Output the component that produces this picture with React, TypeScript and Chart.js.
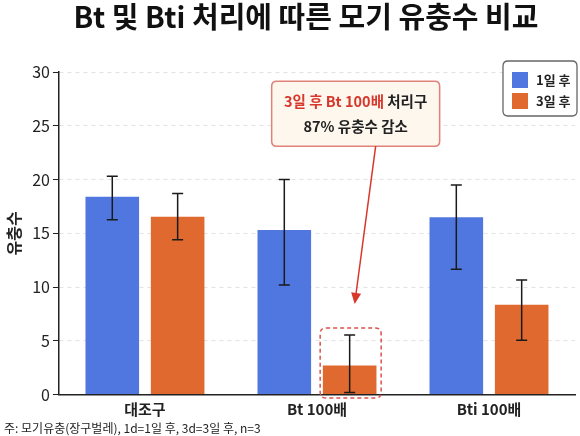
import React, { useEffect, useRef } from "react";
import { Chart, registerables } from "chart.js";

Chart.register(...registerables);

const categories = ["대조구", "Bt 100배", "Bti 100배"];
const seriesLabels = ["1일 후", "3일 후"];
const day1Values = [18.4, 15.3, 16.5];
const day1Upper = [20.3, 20.0, 19.5];
const day1Lower = [16.25, 10.2, 11.65];
const day3Values = [16.55, 2.7, 8.35];
const day3Upper = [18.7, 5.55, 10.65];
const day3Lower = [14.4, 0.2, 5.05];
const yTicks = [0, 5, 10, 15, 20, 25, 30];
const titleText = "Bt 및 Bti 처리에 따른 모기 유충수 비교";
const yAxisTitle = "유충수";
const footnote = "주: 모기유충(장구벌레), 1d=1일 후, 3d=3일 후, n=3";
const noteRed = "3일 후 Bt 100배";
const noteDark = " 처리구";
const noteLine2 = "87% 유충수 감소";

const BLUE = "#5077df";
const ORANGE = "#e0692f";
const RED = "#d8372c";
const FONT = "'Noto Sans CJK KR', 'Noto Sans', sans-serif";

const errorBarPlugin = {
  id: "errorBars",
  afterDatasetsDraw(chart: any) {
    const ctx = chart.ctx;
    const y = chart.scales.y;
    const uppers = [day1Upper, day3Upper];
    const lowers = [day1Lower, day3Lower];
    chart.data.datasets.forEach((_ds: any, di: number) => {
      const meta = chart.getDatasetMeta(di);
      meta.data.forEach((bar: any, i: number) => {
        const top = y.getPixelForValue(uppers[di][i]);
        const bot = y.getPixelForValue(lowers[di][i]);
        ctx.save();
        ctx.strokeStyle = "#1a1a1a";
        ctx.lineWidth = 1.5;
        ctx.beginPath();
        ctx.moveTo(bar.x, top);
        ctx.lineTo(bar.x, bot);
        ctx.moveTo(bar.x - 5.5, top);
        ctx.lineTo(bar.x + 5.5, top);
        ctx.moveTo(bar.x - 5.5, bot);
        ctx.lineTo(bar.x + 5.5, bot);
        ctx.stroke();
        ctx.restore();
      });
    });
  },
};

function roundRect(ctx: any, x: number, y: number, w: number, h: number, r: number) {
  ctx.beginPath();
  ctx.moveTo(x + r, y);
  ctx.lineTo(x + w - r, y);
  ctx.quadraticCurveTo(x + w, y, x + w, y + r);
  ctx.lineTo(x + w, y + h - r);
  ctx.quadraticCurveTo(x + w, y + h, x + w - r, y + h);
  ctx.lineTo(x + r, y + h);
  ctx.quadraticCurveTo(x, y + h, x, y + h - r);
  ctx.lineTo(x, y + r);
  ctx.quadraticCurveTo(x, y, x + r, y);
  ctx.closePath();
}

const annotationPlugin = {
  id: "annotations",
  afterDraw(chart: any) {
    const ctx = chart.ctx;
    const y = chart.scales.y;
    const area = chart.chartArea;
    const bar = chart.getDatasetMeta(1).data[1];
    const topVal = day3Upper[1];

    // title
    ctx.save();
    ctx.font = `bold 29px ${FONT}`;
    ctx.fillStyle = "#111";
    ctx.textAlign = "center";
    ctx.textBaseline = "middle";
    ctx.fillText(titleText, (area.left + area.right) / 2 - 11, 17);
    ctx.restore();

    // dashed highlight box
    ctx.save();
    ctx.strokeStyle = "#d9534f";
    ctx.lineWidth = 1.5;
    ctx.setLineDash([4, 3]);
    const hbTop = y.getPixelForValue(topVal) - 7;
    roundRect(ctx, bar.x - 29.5, hbTop, 61, y.getPixelForValue(0) + 3.5 - hbTop, 6);
    ctx.stroke();
    ctx.restore();

    // callout box
    const bw = 168;
    const bh = 65;
    const bx = bar.x + 6 - bw / 2;
    const by = y.getPixelForValue(29.15);
    ctx.save();
    ctx.fillStyle = "#fdf7ee";
    ctx.strokeStyle = "#e0817a";
    ctx.lineWidth = 1.5;
    roundRect(ctx, bx, by, bw, bh, 5);
    ctx.fill();
    ctx.stroke();
    ctx.font = `bold 14.5px ${FONT}`;
    ctx.textBaseline = "middle";
    const w1 = ctx.measureText(noteRed).width;
    const w2 = ctx.measureText(noteDark).width;
    const cx = bx + bw / 2;
    const sx = cx - (w1 + w2) / 2;
    ctx.textAlign = "left";
    ctx.fillStyle = RED;
    ctx.fillText(noteRed, sx, by + 20);
    ctx.fillStyle = "#222";
    ctx.fillText(noteDark, sx + w1, by + 20);
    ctx.textAlign = "center";
    ctx.fillText(noteLine2, cx, by + 45);

    // arrow
    const x0 = bar.x + 26;
    const y0 = by + bh;
    const x1 = bar.x + 5;
    const y1 = y.getPixelForValue(topVal) - 31;
    const ang = Math.atan2(y1 - y0, x1 - x0);
    ctx.strokeStyle = RED;
    ctx.fillStyle = RED;
    ctx.lineWidth = 1.5;
    ctx.beginPath();
    ctx.moveTo(x0, y0);
    ctx.lineTo(x1 - 9 * Math.cos(ang), y1 - 9 * Math.sin(ang));
    ctx.stroke();
    ctx.beginPath();
    ctx.moveTo(x1, y1);
    ctx.lineTo(x1 - 11 * Math.cos(ang) + 5 * Math.sin(ang), y1 - 11 * Math.sin(ang) - 5 * Math.cos(ang));
    ctx.lineTo(x1 - 11 * Math.cos(ang) - 5 * Math.sin(ang), y1 - 11 * Math.sin(ang) + 5 * Math.cos(ang));
    ctx.closePath();
    ctx.fill();
    ctx.restore();

    // legend
    const lw = 74;
    const lh = 55;
    const lx = area.right + 2 - lw;
    const ly = area.top - 11;
    ctx.save();
    ctx.fillStyle = "#ffffff";
    ctx.strokeStyle = "#666";
    ctx.lineWidth = 1.3;
    roundRect(ctx, lx, ly, lw, lh, 5);
    ctx.fill();
    ctx.stroke();
    const colors = [BLUE, ORANGE];
    ctx.font = `bold 13px ${FONT}`;
    ctx.textBaseline = "middle";
    ctx.textAlign = "left";
    seriesLabels.forEach((lab, i) => {
      const cy = ly + 19 + i * 21;
      ctx.fillStyle = colors[i];
      ctx.fillRect(lx + 9, cy - 8, 16, 16);
      ctx.fillStyle = "#222";
      ctx.fillText(lab, lx + 33, cy);
    });
    ctx.restore();
  },
};

export default function App() {
  const ref = useRef<HTMLCanvasElement | null>(null);
  useEffect(() => {
    document.body.style.margin = "0";
    const chart = new Chart(ref.current as HTMLCanvasElement, {
      type: "bar",
      data: {
        labels: categories,
        datasets: [
          { label: seriesLabels[0], data: day1Values, backgroundColor: BLUE },
          { label: seriesLabels[1], data: day3Values, backgroundColor: ORANGE },
        ],
      },
      options: {
        animation: false,
        responsive: false,
        devicePixelRatio: 1,
        categoryPercentage: 0.76,
        barPercentage: 0.82,
        layout: { padding: { left: 4, right: 5, top: 72, bottom: 0 } },
        plugins: {
          legend: { display: false },
          tooltip: { enabled: false },
          title: { display: false },
          subtitle: {
            display: true,
            text: footnote,
            position: "bottom",
            align: "start",
            color: "#222",
            font: { family: FONT, size: 12 },
            padding: { top: -2, bottom: 0 },
          },
        },
        scales: {
          x: {
            grid: { display: false, drawTicks: false },
            border: { display: true, color: "#222", width: 1.5 },
            ticks: {
              color: "#222",
              font: { family: FONT, size: 15, weight: "bold", lineHeight: 1.0 },
              padding: 7,
            },
          },
          y: {
            min: 0,
            max: 30,
            afterBuildTicks: (axis: any) => {
              axis.ticks = yTicks.map((v) => ({ value: v }));
            },
            grid: {
              color: "#e2e2e2",
              tickColor: "#222",
              tickLength: 6,
              tickBorderDash: [],
            },
            border: { display: true, color: "#222", width: 1.5, dash: [4, 4] },
            ticks: {
              color: "#222",
              font: { family: FONT, size: 16 },
              padding: 3,
            },
            title: {
              display: true,
              text: yAxisTitle,
              color: "#222",
              font: { family: FONT, size: 16, weight: "bold" },
              padding: { top: 0, bottom: 6 },
            },
          },
        },
      } as any,
      plugins: [errorBarPlugin, annotationPlugin],
    });
    return () => chart.destroy();
  }, []);
  return (
    <div style={{ position: "fixed", left: 0, top: 0, width: 580, height: 436, background: "#fff" }}>
      <canvas ref={ref} width={580} height={436} style={{ width: 580, height: 436 }} />
    </div>
  );
}
